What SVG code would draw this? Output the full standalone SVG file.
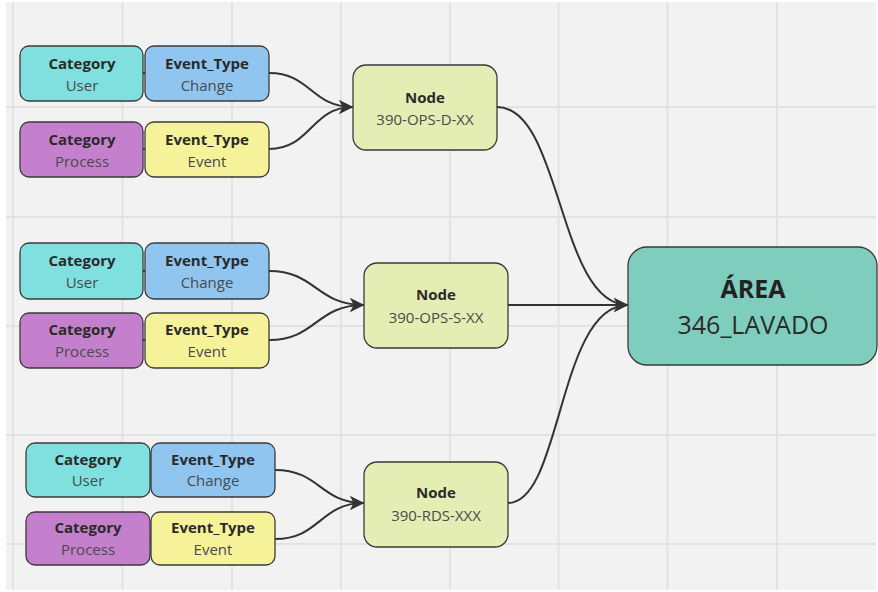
<svg xmlns="http://www.w3.org/2000/svg" width="878" height="592" viewBox="0 0 878 592">
<defs>
<style>
text{font-family:"Open Sans","Liberation Sans",sans-serif;text-anchor:middle}
.t{font-weight:700;font-size:15px;fill:#2a2a2a}
.s{font-size:15px;fill:#4a4a4a}
.box{stroke:#3a3a3a;stroke-width:1.3}
.cu{fill:#80e0e0}
.ec{fill:#90c5f0}
.cp{fill:#c480cc}
.ee{fill:#f6f29a}
.nd{fill:#e4edb4}
.ar{fill:#7fcdbd}
.grid{stroke:#e2e2e2;stroke-width:2}
.c{fill:none;stroke:#333;stroke-width:2}
</style>
<marker id="ah" markerUnits="userSpaceOnUse" markerWidth="16" markerHeight="16" viewBox="0 0 16 16" refX="15" refY="8" orient="auto">
<path d="M1,1 L15,8 L1,15 L5,8 Z" fill="#333"/>
</marker>
</defs>
<rect width="878" height="592" fill="#ffffff"/>
<rect x="6" y="2" width="870" height="588" fill="#f2f2f2"/>
<g id="grid">
<path class="grid" d="M13,2V590M122.5,2V590M232,2V590M341,2V590M450,2V590M558.5,2V590M667.5,2V590M777,2V590M6,107H876M6,217H876M6,326H876M6,435H876M6,544H876"/>
</g>
<g id="connectors">
<path class="c" d="M143,73H145M143,149H145M143,271H145M143,340H145M150,470H151M150,538H151"/>
<path class="c" d="M269,73 C311,73 311,107 353,107" marker-end="url(#ah)"/>
<path class="c" d="M269,149 C311,149 311,107 353,107" marker-end="url(#ah)"/>
<path class="c" d="M269,271 C316,271 316,305 364,305" marker-end="url(#ah)"/>
<path class="c" d="M269,340 C316,340 316,305 364,305" marker-end="url(#ah)"/>
<path class="c" d="M275,470 C320,470 320,503 364,503" marker-end="url(#ah)"/>
<path class="c" d="M275,539 C320,539 320,503 364,503" marker-end="url(#ah)"/>
<path class="c" d="M497,107 C562,107 558,305 628,305" marker-end="url(#ah)"/>
<path class="c" d="M508,305 H628" marker-end="url(#ah)"/>
<path class="c" d="M508,503 C562,503 558,305 628,305" marker-end="url(#ah)"/>
</g>
<g id="cat-user-1"><rect class="box cu" x="20" y="46" width="123" height="55" rx="9"/><text class="t" x="82" y="69">Category</text><text class="s" x="82" y="91">User</text></g>
<g id="evt-change-1"><rect class="box ec" x="145" y="46" width="124" height="55" rx="9"/><text class="t" x="207" y="69">Event_Type</text><text class="s" x="207" y="91">Change</text></g>
<g id="cat-process-1"><rect class="box cp" x="20" y="122" width="123" height="55" rx="9"/><text class="t" x="82" y="145">Category</text><text class="s" x="82" y="167">Process</text></g>
<g id="evt-event-1"><rect class="box ee" x="145" y="122" width="124" height="55" rx="9"/><text class="t" x="207" y="145">Event_Type</text><text class="s" x="207" y="167">Event</text></g>
<g id="cat-user-2"><rect class="box cu" x="20" y="243" width="123" height="56" rx="9"/><text class="t" x="82" y="266">Category</text><text class="s" x="82" y="288">User</text></g>
<g id="evt-change-2"><rect class="box ec" x="145" y="243" width="124" height="56" rx="9"/><text class="t" x="207" y="266">Event_Type</text><text class="s" x="207" y="288">Change</text></g>
<g id="cat-process-2"><rect class="box cp" x="20" y="313" width="123" height="55" rx="9"/><text class="t" x="82" y="335">Category</text><text class="s" x="82" y="357">Process</text></g>
<g id="evt-event-2"><rect class="box ee" x="145" y="313" width="124" height="55" rx="9"/><text class="t" x="207" y="335">Event_Type</text><text class="s" x="207" y="357">Event</text></g>
<g id="cat-user-3"><rect class="box cu" x="26" y="443" width="124" height="54" rx="9"/><text class="t" x="88" y="465">Category</text><text class="s" x="88" y="486">User</text></g>
<g id="evt-change-3"><rect class="box ec" x="151" y="443" width="124" height="54" rx="9"/><text class="t" x="213" y="465">Event_Type</text><text class="s" x="213" y="486">Change</text></g>
<g id="cat-process-3"><rect class="box cp" x="26" y="512" width="124" height="53" rx="9"/><text class="t" x="88" y="533">Category</text><text class="s" x="88" y="555">Process</text></g>
<g id="evt-event-3"><rect class="box ee" x="151" y="512" width="124" height="53" rx="9"/><text class="t" x="213" y="533">Event_Type</text><text class="s" x="213" y="555">Event</text></g>
<g id="node-1"><rect class="box nd" x="353" y="65" width="144" height="85" rx="13"/><text class="t" x="425" y="103">Node</text><text class="s" x="425" y="125">390-OPS-D-XX</text></g>
<g id="node-2"><rect class="box nd" x="364" y="263" width="144" height="85" rx="13"/><text class="t" x="436" y="300">Node</text><text class="s" x="436" y="323">390-OPS-S-XX</text></g>
<g id="node-3"><rect class="box nd" x="364" y="462" width="144" height="85" rx="13"/><text class="t" x="436" y="498">Node</text><text class="s" x="436" y="521">390-RDS-XXX</text></g>
<g id="area"><rect class="box ar" x="628" y="247" width="249" height="118" rx="19"/><text x="753" y="298" style="font-weight:700;font-size:25px;fill:#222">ÁREA</text><text x="753" y="334" style="font-size:25px;fill:#2a2a2a">346_LAVADO</text></g>
</svg>
